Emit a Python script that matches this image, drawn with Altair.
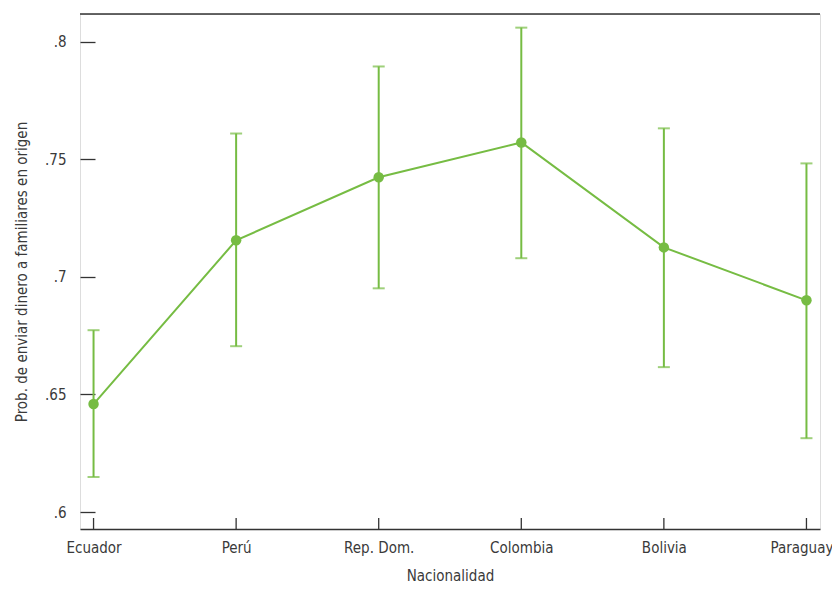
import altair as alt
import pandas as pd

countries = ["Ecuador", "Perú", "Rep. Dom.", "Colombia", "Bolivia", "Paraguay"]
prob = [0.6459, 0.7155, 0.7423, 0.7571, 0.7125, 0.6900]
lower = [0.6149, 0.6705, 0.6951, 0.7079, 0.6616, 0.6314]
upper = [0.6773, 0.7609, 0.7894, 0.8059, 0.7631, 0.7482]
y_ticks = [0.6, 0.65, 0.7, 0.75, 0.8]

df = pd.DataFrame({"pais": countries, "prob": prob, "lo": lower, "hi": upper})

W, H = 740, 515
GREEN = "#76bc43"
FONT = "DejaVu Sans Condensed, DejaVu Sans, sans-serif"
TXT = "#3a3a3a"
FS = 15
YTITLE = "Prob. de enviar dinero a familiares en origen"

yscale = alt.Scale(domain=[0.5928, 0.8117], nice=False, zero=False)

def yaxis():
    return alt.Axis(title=YTITLE,
                    values=y_ticks, domain=False, grid=False,
                    offset=-15, tickSize=15, tickColor="#333333", tickWidth=1.3,
                    labelPadding=14, labelFontSize=FS, titleFontSize=FS,
                    labelFont=FONT, titleFont=FONT, labelColor=TXT,
                    titleColor=TXT, titleFontWeight="normal",
                    labelExpr="replace(format(datum.value, '~g'), '0.', '.')",
                    titlePadding=15)

xs = alt.X("pais:N", sort=countries,
           scale=alt.Scale(type="point", padding=0.095),
           axis=alt.Axis(title="Nacionalidad", labelAngle=0, ticks=False,
                         domainColor="#333333", domainWidth=1.3,
                         labelPadding=11, labelFontSize=FS, titleFontSize=FS,
                         labelFont=FONT, titleFont=FONT, labelColor=TXT,
                         titleColor=TXT, titleFontWeight="normal", titlePadding=13,
                         labelOffset={"condition": {"test": "datum.value === 'Paraguay'", "value": -5},
                                      "value": 0}))
ys = alt.Y("prob:Q", scale=yscale, axis=yaxis())

base = alt.Chart(df)

bars = base.mark_errorbar(ticks=alt.MarkConfig(size=12, color=GREEN, strokeWidth=2),
                          color=GREEN, thickness=2).encode(
    x=xs, y=alt.Y("lo:Q", scale=yscale, axis=yaxis()),
    y2="hi:Q")

line = base.mark_line(color=GREEN, strokeWidth=2).encode(x=xs, y=ys)
pts = base.mark_circle(color=GREEN, size=110, opacity=1).encode(x=xs, y=ys)

xticks = base.mark_rule(color="#333333", strokeWidth=1.3).encode(
    x=alt.X("pais:N", sort=countries), y=alt.value(H - 11), y2=alt.value(H))

topline = alt.Chart(pd.DataFrame({"a": [0]})).mark_rule(color="#333333", strokeWidth=1.5).encode(
    x=alt.value(0), x2=alt.value(W), y=alt.value(0))

chart = alt.layer(line, bars, pts, xticks, topline).properties(
    width=W, height=H,
    autosize=alt.AutoSizeParams(type="none"),
    padding={"left": 72, "top": 6, "right": 12, "bottom": 55},
).configure_view(stroke="transparent", strokeWidth=0).configure(background="white")

chart.save("out.html", embed_options={"renderer": "svg", "actions": False})
